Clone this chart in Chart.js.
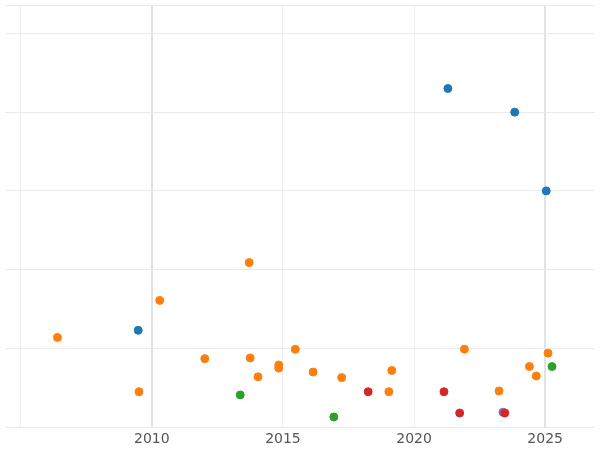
<!DOCTYPE html>
<html>
<head>
<script src="https://cdn.jsdelivr.net/npm/chart.js@4"></script>
<style>
  body { margin: 0; background: #fff; }
  #wrap { width: 600px; height: 450px; }
</style>
</head>
<body>
<div id="wrap"><canvas id="chart"></canvas></div>
<script>
// points per group: [year, value]
const blueYears = [2009.48, 2021.29, 2023.84, 2025.04];
const blueValues = [1.23, 4.30, 4.00, 3.00];
const orangeYears = [2006.4, 2009.51, 2010.3, 2012.02, 2013.71, 2013.75, 2014.05, 2014.84, 2014.84, 2015.47, 2016.15, 2017.24, 2019.04, 2019.15, 2021.92, 2023.24, 2024.40, 2024.66, 2025.11];
const orangeValues = [1.14, 0.45, 1.61, 0.87, 2.09, 0.88, 0.64, 0.79, 0.75, 0.99, 0.70, 0.63, 0.45, 0.72, 0.99, 0.46, 0.77, 0.65, 0.94];
const greenYears = [2013.37, 2016.94, 2025.26];
const greenValues = [0.41, 0.13, 0.77];
const redYears = [2018.25, 2021.14, 2021.74, 2023.46];
const redValues = [0.45, 0.45, 0.18, 0.18];
const purpleYears = [2023.39];
const purpleValues = [0.19];

function pts(xs, ys) {
  return xs.map((x, i) => ({ x: x, y: ys[i] }));
}

function ds(xs, ys, color) {
  return {
    data: pts(xs, ys),
    backgroundColor: color,
    borderColor: color,
    pointRadius: 4,
    pointHoverRadius: 4,
  };
}

new Chart(document.getElementById("chart").getContext("2d"), {
  type: "scatter",
  data: {
    datasets: [
      ds(blueYears, blueValues, "#1f77b4"),
      ds(orangeYears, orangeValues, "#ff7f0e"),
      ds(greenYears, greenValues, "#2ca02c"),
      ds(redYears, redValues, "#d62728"),
      ds(purpleYears, purpleValues, "#9467bd"),
    ],
  },
  options: {
    responsive: true,
    maintainAspectRatio: false,
    animation: false,
    layout: { padding: { left: -5, right: -6, top: -5, bottom: -2 } },
    plugins: { legend: { display: false }, tooltip: { enabled: false } },
    scales: {
      x: {
        type: "linear",
        min: 2004.4,
        max: 2026.9,
        border: { display: false },
        grid: {
          drawTicks: false,
          color: (c) => (c.tick && (c.tick.value === 2010 || c.tick.value === 2025) ? "#e2e2e2" : "#eeeeee"),
          lineWidth: (c) => (c.tick && (c.tick.value === 2010 || c.tick.value === 2025) ? 2 : 1),
        },
        ticks: {
          stepSize: 5,
          padding: 4,
          color: "#555",
          font: { family: "DejaVu Sans", size: 14 },
          callback: (v) => (v >= 2010 && v <= 2025 ? String(v) : ""),
        },
        afterBuildTicks: (axis) => {
          axis.ticks = [2005, 2010, 2015, 2020, 2025].map((v) => ({ value: v }));
        },
      },
      y: {
        min: 0,
        max: 5.36,
        border: { display: false },
        grid: { color: "#eaeaea", drawTicks: false },
        ticks: { display: false, stepSize: 1 },
      },
    },
  },
});
</script>
</body>
</html>
